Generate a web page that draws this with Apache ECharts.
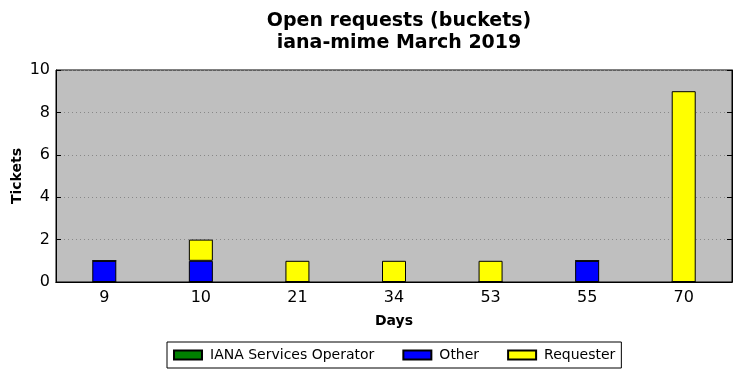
<!DOCTYPE html>
<html>
<head>
<meta charset="utf-8">
<script src="https://cdn.jsdelivr.net/npm/echarts@6/dist/echarts.min.js"></script>
<style>
    html, body {margin: 0; padding: 0; background: #fff;}
    #chart {width: 741px; height: 378px;}
</style>
</head>
<body>
<div id="chart"></div>
<script>
var days = ["9", "10", "21", "34", "53", "55", "70"];
var ianaOperator = [0, 0, 0, 0, 0, 0, 0];
var other = [1, 1, 0, 0, 0, 1, 0];
var requester = [0, 1, 1, 1, 1, 0, 9];
var yTicks = [0, 2, 4, 6, 8, 10];

var font = "DejaVu Sans";
var myChart = echarts.init(document.getElementById("chart"));

var barStyle = function (color) {
    return {color: color, borderColor: "#000", borderWidth: 1};
};

var option = {
    animation: false,
    backgroundColor: "#fff",
    title: {
        text: "Open requests (buckets)\niana-mime March 2019",
        left: 394,
        textAlign: "center",
        top: 5,
        textStyle: {fontFamily: font, fontSize: 19, fontWeight: "bold", color: "#000", lineHeight: 22}
    },
    legend: {
        data: ["IANA Services Operator", "Other", "Requester"],
        icon: "rect",
        bottom: 10,
        left: 167,
        itemWidth: 28,
        itemHeight: 9,
        itemGap: 28,
        padding: [6, 6, 6, 6],
        borderColor: "#000",
        borderWidth: 1,
        borderRadius: 0,
        textStyle: {fontFamily: font, fontSize: 14, color: "#000", padding: [0, 0, 0, 3]}
    },
    grid: {left: 56, right: 9, top: 70, bottom: 96, outerBoundsMode: "none", show: true, backgroundColor: "#bfbfbf", borderColor: "#000", borderWidth: 1},
    xAxis: [{
        type: "category",
        data: days,
        name: "Days",
        nameLocation: "middle",
        nameGap: 32,
        nameMoveOverlap: false,
        nameTextStyle: {fontFamily: font, fontSize: 14, fontWeight: "bold", color: "#000"},
        axisLine: {lineStyle: {color: "#000"}},
        axisTick: {inside: true, alignWithLabel: true, length: 5, lineStyle: {color: "#000"}},
        axisLabel: {fontFamily: font, fontSize: 16, color: "#000", margin: 8}
    }, {
        type: "category",
        data: days,
        position: "top",
        axisLine: {lineStyle: {color: "#000"}},
        axisTick: {inside: true, alignWithLabel: true, length: 5, lineStyle: {color: "#000"}},
        axisLabel: {show: false}
    }],
    yAxis: [{
        type: "value",
        min: 0,
        max: 10,
        interval: 2,
        name: "Tickets",
        nameLocation: "middle",
        nameGap: 32,
        nameMoveOverlap: false,
        nameTextStyle: {fontFamily: font, fontSize: 14, fontWeight: "bold", color: "#000"},
        axisLine: {show: true, lineStyle: {color: "#000"}},
        axisTick: {show: true, inside: true, length: 5, lineStyle: {color: "#000"}},
        axisLabel: {fontFamily: font, fontSize: 16, color: "#000", margin: 6,
            formatter: function (v) { return yTicks.indexOf(v) >= 0 ? String(v) : ""; }},
        splitLine: {show: true, lineStyle: {color: "#888", type: [1, 3], width: 1}}
    }, {
        type: "value",
        min: 0,
        max: 10,
        interval: 2,
        position: "right",
        axisLine: {show: true, lineStyle: {color: "#000"}},
        axisTick: {show: true, inside: true, length: 5, lineStyle: {color: "#000"}},
        axisLabel: {show: false},
        splitLine: {show: false}
    }],
    series: [{
        name: "IANA Services Operator",
        type: "bar",
        stack: "t",
        barWidth: 24,
        itemStyle: barStyle("#008000"),
        data: ianaOperator
    }, {
        name: "Other",
        type: "bar",
        stack: "t",
        barWidth: 24,
        itemStyle: barStyle("#0000ff"),
        data: other
    }, {
        name: "Requester",
        type: "bar",
        stack: "t",
        barWidth: 24,
        itemStyle: barStyle("#ffff00"),
        data: requester
    }]
};
myChart.setOption(option);
</script>
</body>
</html>
